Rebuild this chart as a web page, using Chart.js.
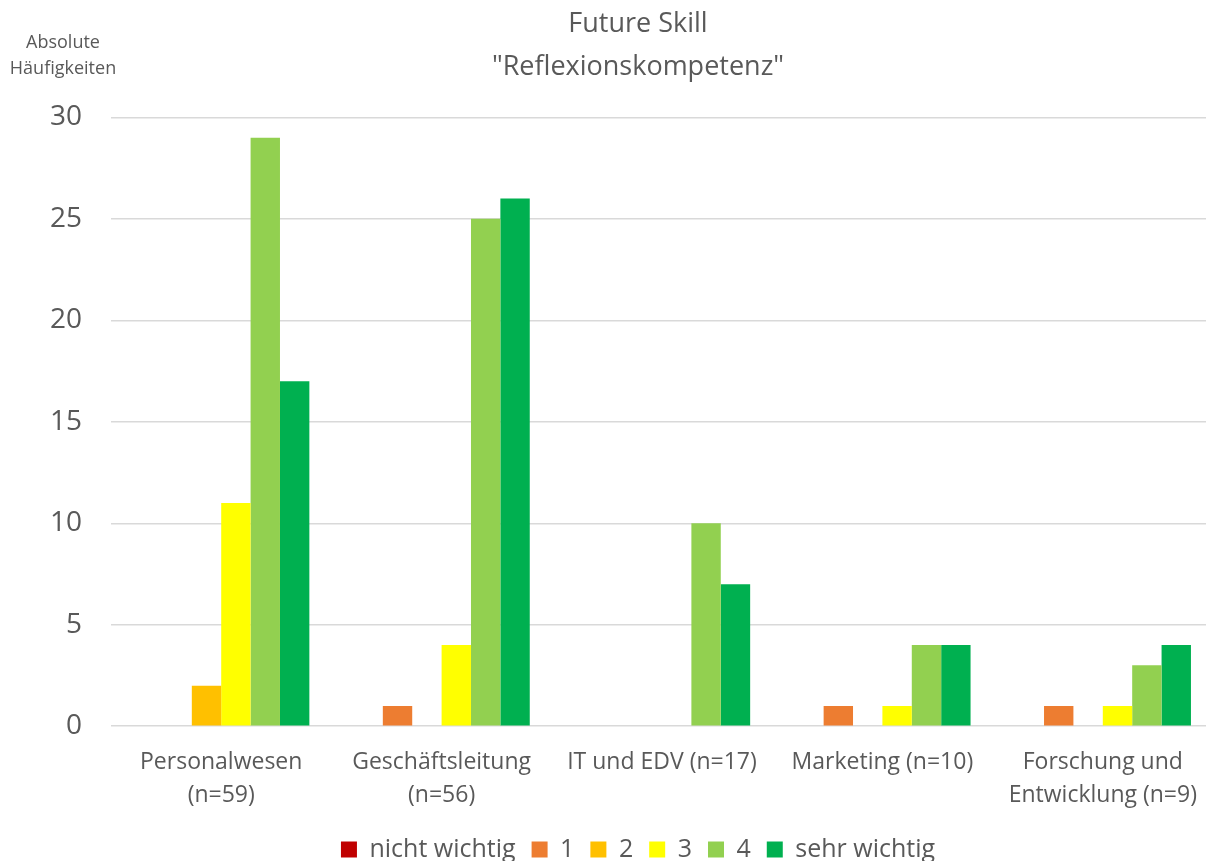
<!DOCTYPE html>
<html>
<head>
<meta charset="utf-8">
<script src="https://cdn.jsdelivr.net/npm/chart.js@4/dist/chart.umd.min.js"></script>
<style>
  html, body { margin: 0; padding: 0; background: #fff; overflow: hidden; }
  #wrap { width: 1276px; height: 861px; }
</style>
</head>
<body>
<div id="wrap"><canvas id="chart" width="1276" height="861"></canvas></div>
<script>
const categories = [
  ["Personalwesen", "(n=59)"],
  ["Geschäftsleitung", "(n=56)"],
  "IT und EDV (n=17)",
  "Marketing (n=10)",
  ["Forschung und", "Entwicklung (n=9)"]
];
const seriesNames = ["nicht wichtig", "1", "2", "3", "4", "sehr wichtig"];
const nichtWichtig = [0, 0, 0, 0, 0];
const stufe1 = [0, 1, 0, 1, 1];
const stufe2 = [2, 0, 0, 0, 0];
const stufe3 = [11, 4, 0, 1, 1];
const stufe4 = [29, 25, 10, 4, 3];
const sehrWichtig = [17, 26, 7, 4, 4];
const yTicks = [0, 5, 10, 15, 20, 25, 30];

const colors = ["#C00000", "#ED7D31", "#FFC000", "#FFFF00", "#92D050", "#00B050"];
const values = [nichtWichtig, stufe1, stufe2, stufe3, stufe4, sehrWichtig];
const FONT = "'Open Sans', sans-serif";
const TEXT = "#595959";

const datasets = seriesNames.map((name, i) => ({
  label: name,
  data: values[i],
  backgroundColor: colors[i],
  borderWidth: 0,
  categoryPercentage: 0.8,
  barPercentage: 1
}));

// small axis caption in the top left corner
const yCaption = {
  id: "yCaption",
  afterDraw(chart) {
    const ctx = chart.ctx;
    ctx.save();
    ctx.fillStyle = TEXT;
    ctx.font = "18px " + FONT;
    ctx.textAlign = "center";
    ctx.textBaseline = "middle";
    ctx.fillText("Absolute", 63, 43);
    ctx.fillText("Häufigkeiten", 63, 69);
    ctx.restore();
  }
};

new Chart(document.getElementById("chart"), {
  type: "bar",
  data: { labels: categories, datasets },
  plugins: [yCaption],
  options: {
    responsive: false,
    animation: false,
    layout: { padding: { left: 0, right: 0, top: 3, bottom: -11 } },
    plugins: {
      title: {
        display: true,
        text: ["Future Skill", "\"Reflexionskompetenz\""],
        color: TEXT,
        font: { family: FONT, size: 27, weight: "normal", lineHeight: 1.6 },
        padding: { top: 0, bottom: 28 }
      },
      legend: {
        position: "bottom",
        labels: {
          color: TEXT,
          font: { family: FONT, size: 25 },
          boxWidth: 16,
          boxHeight: 16,
          padding: 16
        }
      },
      tooltip: { enabled: false }
    },
    scales: {
      x: {
        afterFit(axis) { axis.height -= 3; },
        grid: { display: false },
        border: { display: false },
        ticks: {
          color: TEXT,
          font: { family: FONT, size: 23, lineHeight: 1.43 },
          maxRotation: 0,
          autoSkip: false,
          padding: 12
        }
      },
      y: {
        min: 0,
        max: 30,
        afterBuildTicks(axis) {
          axis.ticks = yTicks.map(v => ({ value: v }));
        },
        afterFit(axis) { axis.width = 111; },
        grid: { color: "#D9D9D9", lineWidth: 1.5, drawTicks: false },
        border: { display: false },
        ticks: {
          color: TEXT,
          font: { family: FONT, size: 28 },
          padding: 29
        }
      },
      // empty right margin so the plot stops short of the canvas edge
      yRight: {
        position: "right",
        min: 0,
        max: 30,
        afterFit(axis) { axis.width = 63; },
        grid: { display: false },
        border: { display: false },
        ticks: { display: false }
      }
    }
  }
});
</script>
</body>
</html>
